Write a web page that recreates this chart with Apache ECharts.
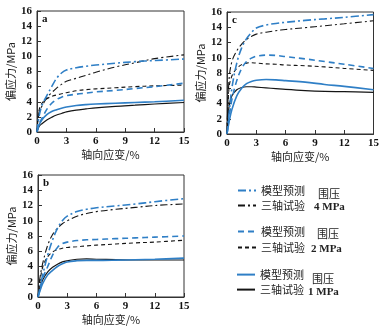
<!DOCTYPE html>
<html>
<head>
<meta charset="utf-8">
<script src="https://cdn.jsdelivr.net/npm/echarts@6/dist/echarts.min.js"></script>
<style>
html,body{margin:0;padding:0;background:#fff;}
#c{width:382px;height:327px;}
</style>
</head>
<body>
<div id="c"></div>
<script>
// Shared strain sample points (%)
const strain = [0, 0.2, 0.5, 1, 1.5, 2, 2.5, 3, 4, 5, 6, 8, 10, 12, 15];
const xTicks = [0, 3, 6, 9, 12, 15];
const yTicks = [0, 2, 4, 6, 8, 10, 12, 14, 16];

// Panel a
const a_m4 = [0, 2.0, 3.5, 4.8, 6.0, 7.1, 7.8, 8.2, 8.5, 8.7, 8.85, 9.1, 9.3, 9.45, 9.65];
const a_t4 = [0, 2.6, 3.4, 4.5, 5.2, 5.8, 6.3, 6.7, 7.1, 7.5, 7.9, 8.6, 9.15, 9.7, 10.2];
const a_m2 = [0, 1.0, 1.8, 3.0, 3.8, 4.3, 4.6, 4.8, 5.0, 5.15, 5.3, 5.5, 5.75, 6.0, 6.45];
const a_t2 = [0, 2.8, 3.8, 4.4, 4.7, 4.9, 5.05, 5.2, 5.45, 5.6, 5.7, 5.85, 6.0, 6.1, 6.2];
const a_m1 = [0, 0.9, 1.6, 2.3, 2.7, 2.95, 3.15, 3.3, 3.5, 3.62, 3.7, 3.8, 3.9, 4.0, 4.2];
const a_t1 = [0, 0.7, 1.1, 1.6, 1.95, 2.25, 2.45, 2.65, 2.9, 3.05, 3.2, 3.4, 3.55, 3.7, 3.9];

// Panel c
const c_m4 = [0, 2.5, 6.0, 9.3, 11.3, 12.5, 13.3, 13.9, 14.3, 14.5, 14.65, 14.9, 15.1, 15.3, 15.65];
const c_t4 = [0, 7.0, 9.5, 10.9, 11.8, 12.4, 12.8, 13.1, 13.35, 13.55, 13.7, 13.95, 14.2, 14.45, 14.85];
const c_m2 = [0, 2.0, 4.5, 7.0, 8.6, 9.5, 9.95, 10.2, 10.35, 10.3, 10.15, 9.85, 9.5, 9.15, 8.6];
const c_t2 = [0, 6.0, 7.6, 8.6, 9.1, 9.3, 9.35, 9.3, 9.2, 9.15, 9.05, 8.95, 8.8, 8.6, 8.35];
const c_m1 = [0, 1.5, 3.2, 5.0, 6.0, 6.6, 6.9, 7.05, 7.15, 7.1, 7.0, 6.8, 6.5, 6.25, 5.8];
const c_t1 = [0, 3.5, 5.0, 5.8, 6.1, 6.2, 6.2, 6.15, 6.05, 5.95, 5.85, 5.7, 5.6, 5.55, 5.45];

// Panel b
const b_m4 = [0, 1.2, 3.0, 5.5, 7.5, 9.0, 10.0, 10.6, 11.2, 11.5, 11.7, 11.95, 12.2, 12.5, 12.9];
const b_t4 = [0, 2.5, 4.5, 6.8, 8.2, 9.0, 9.6, 10.0, 10.6, 10.95, 11.2, 11.5, 11.75, 12.0, 12.2];
const b_m2 = [0, 1.0, 2.5, 4.0, 5.5, 6.5, 7.0, 7.2, 7.4, 7.5, 7.55, 7.65, 7.75, 7.85, 8.0];
const b_t2 = [0, 2.0, 4.0, 5.3, 5.9, 6.2, 6.4, 6.5, 6.6, 6.7, 6.8, 6.95, 7.1, 7.2, 7.45];
const b_m1 = [0, 0.8, 1.8, 2.9, 3.5, 4.0, 4.35, 4.6, 4.75, 4.8, 4.8, 4.83, 4.88, 4.95, 5.1];
const b_t1 = [0, 1.2, 2.3, 3.3, 3.9, 4.3, 4.6, 4.75, 4.95, 5.0, 4.95, 4.9, 4.85, 4.85, 4.85];

const panelLabels = ['a', 'c', 'b'];
const legendModel = '模型预测';
const legendTest = '三轴试验';
const legendConf = '围压';
const pressures = ['4 MPa', '2 MPa', '1 MPa'];

const BLUE = '#2f7fc6';
const BLACK = '#151515';
const serif = '"Liberation Serif","DejaVu Serif",serif';
const cjk = '"Noto Sans CJK SC",sans-serif';

const grids = [
  {left: 37, top: 11, width: 147, height: 121},
  {left: 227, top: 12, width: 147, height: 122},
  {left: 38, top: 175, width: 146, height: 122}
];

const chart = echarts.init(document.getElementById('c'), null, {renderer: 'canvas'});

function xAxisFor(i) {
  return {
    gridIndex: i, type: 'value', min: 0, max: 15, interval: 3,
    name: '轴向应变/%', nameLocation: 'middle', nameGap: 17,
    nameTextStyle: {fontFamily: cjk, fontSize: 11, color: '#222'},
    axisLine: {lineStyle: {color: '#333', width: 1}},
    axisTick: {inside: true, length: 4, lineStyle: {color: '#333'}},
    axisLabel: {fontFamily: serif, fontSize: 11, color: '#111', margin: 4, fontWeight: 'bold'},
    splitLine: {show: false}
  };
}
function yAxisFor(i) {
  return {
    gridIndex: i, type: 'value', min: 0, max: 16, interval: 2,
    name: '偏应力/MPa', nameLocation: 'middle', nameGap: 21,
    nameTextStyle: {fontFamily: cjk, fontSize: 11, color: '#222'},
    axisLine: {show: true, lineStyle: {color: '#333', width: 1}},
    axisTick: {show: true, inside: true, length: 4, lineStyle: {color: '#333'}},
    axisLabel: {fontFamily: serif, fontSize: 11, color: '#111', margin: 5, fontWeight: 'bold'},
    splitLine: {show: false}
  };
}

const styles = {
  m4: {color: BLUE, width: 1.6, type: [8, 3, 2, 3]},
  t4: {color: BLACK, width: 1.1, type: [7, 3, 2, 3]},
  m2: {color: BLUE, width: 1.6, type: [6, 4]},
  t2: {color: BLACK, width: 1.1, type: [4, 3]},
  m1: {color: BLUE, width: 1.6, type: 'solid'},
  t1: {color: BLACK, width: 1.2, type: 'solid'}
};
const names = {
  m4: legendModel + ' 4', t4: legendTest + ' 4',
  m2: legendModel + ' 2', t2: legendTest + ' 2',
  m1: legendModel + ' 1', t1: legendTest + ' 1'
};
const panelData = [
  {m4: a_m4, t4: a_t4, m2: a_m2, t2: a_t2, m1: a_m1, t1: a_t1},
  {m4: c_m4, t4: c_t4, m2: c_m2, t2: c_t2, m1: c_m1, t1: c_t1},
  {m4: b_m4, t4: b_t4, m2: b_m2, t2: b_t2, m1: b_m1, t1: b_t1}
];

const series = [];
panelData.forEach((pd, gi) => {
  ['t1', 'm1', 't2', 'm2', 't4', 'm4'].forEach(k => {
    series.push({
      type: 'line', name: names[k], xAxisIndex: gi, yAxisIndex: gi,
      data: strain.map((x, j) => [x, pd[k][j]]),
      smooth: 0.35, symbol: 'none', showSymbol: false,
      lineStyle: styles[k], itemStyle: {color: styles[k].color},
      silent: true, animation: false
    });
  });
});

const legendRows = [
  {key: 'm4', c: 192, x: 237}, {key: 't4', c: 207, x: 237},
  {key: 'm2', c: 233, x: 237}, {key: 't2', c: 249, x: 237},
  {key: 'm1', c: 276, x: 236}, {key: 't1', c: 291, x: 236}
];
const legends = legendRows.map(r => ({
  data: [names[r.key]], left: r.x, top: r.c - 7, orient: 'horizontal', padding: 0,
  itemWidth: 18, itemHeight: 14, itemGap: 4, selectedMode: false,
  itemStyle: {opacity: 0},
  formatter: n => n.split(' ')[0],
  textStyle: {fontFamily: cjk, fontSize: 11, color: '#222'}
}));

const graphics = [];
panelLabels.forEach((lab, i) => {
  graphics.push({type: 'text', left: grids[i].left + 5, top: grids[i].top + 3,
    style: {text: lab, font: 'bold 11px ' + serif, fill: '#111'}});
});
const confPos = [[318, 194], [317, 234], [312, 279]];
const presPos = [[314, 207], [311, 249], [308, 292]];
pressures.forEach((p, i) => {
  graphics.push({type: 'text', x: confPos[i][0], y: confPos[i][1],
    style: {text: legendConf, font: '11px ' + cjk, fill: '#222', textVerticalAlign: 'middle'}});
  graphics.push({type: 'text', x: presPos[i][0], y: presPos[i][1],
    style: {text: p, font: 'bold 11px ' + serif, fill: '#222', textVerticalAlign: 'middle'}});
});

chart.setOption({
  animation: false,
  backgroundColor: '#fff',
  grid: grids.map(g => Object.assign({show: true, borderColor: '#333', borderWidth: 1, backgroundColor: 'transparent'}, g)),
  xAxis: [0, 1, 2].map(xAxisFor),
  yAxis: [0, 1, 2].map(yAxisFor),
  legend: legends,
  series: series,
  graphic: graphics
});
</script>
</body>
</html>
